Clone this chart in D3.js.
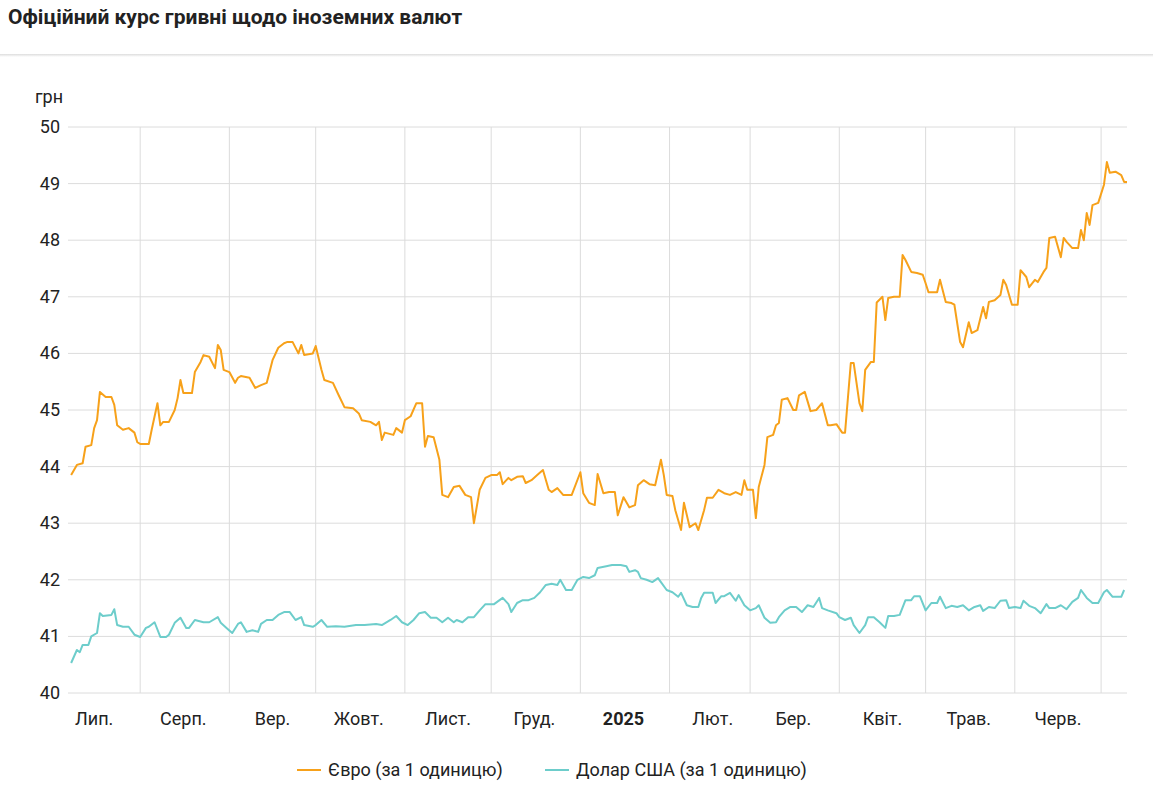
<!DOCTYPE html>
<html>
<head>
<meta charset="utf-8">
<script src="https://cdn.jsdelivr.net/npm/d3@7"></script>
<style>
  body { margin: 0; background: #fff; font-family: Roboto, "Noto Sans", sans-serif; }
  .title { position: absolute; left: 8px; top: 5px; font-size: 21px; font-weight: bold; color: #222; }
  .sep { position: absolute; left: 0; right: 0; top: 54px; height: 3px; background: linear-gradient(#ddd, #fff); }
</style>
</head>
<body>
<div class="title">Офіційний курс гривні щодо іноземних валют</div>
<div class="sep"></div>
<svg id="chart" width="1153" height="792" style="position:absolute;left:0;top:0"></svg>
<script>
'use strict'

// day offsets from 1 Jul 2024
var euroDays = [7, 9, 11, 12, 14, 15, 16, 17, 19, 21, 22, 23, 25, 27, 29, 30, 31, 34, 35, 37, 38, 39, 41, 43, 44, 45, 46, 49, 50, 52, 53, 55, 57, 58, 59, 60, 62, 64, 65, 66, 69, 71, 73, 75, 77, 79, 81, 82, 84, 86, 87, 88, 91, 92, 94, 95, 98, 100, 102, 105, 107, 108, 111, 113, 114, 115, 116, 119, 120, 122, 123, 125, 127, 129, 130, 131, 133, 135, 136, 138, 140, 142, 144, 146, 147, 149, 151, 153, 155, 156, 157, 159, 160, 162, 164, 165, 167, 169, 171, 173, 174, 176, 178, 181, 184, 185, 187, 189, 190, 192, 194, 196, 197, 199, 201, 203, 204, 206, 208, 210, 212, 213, 214, 216, 217, 219, 220, 222, 224, 225, 227, 228, 230, 232, 234, 236, 238, 240, 241, 242, 244, 245, 246, 248, 249, 251, 252, 253, 254, 256, 258, 259, 260, 262, 264, 266, 268, 270, 271, 273, 275, 276, 278, 279, 281, 282, 283, 285, 286, 287, 289, 290, 291, 293, 295, 296, 297, 299, 301, 303, 304, 305, 308, 309, 311, 313, 314, 316, 317, 319, 320, 322, 324, 325, 326, 328, 330, 331, 332, 334, 336, 337, 339, 340, 342, 343, 345, 346, 347, 349, 351, 352, 353, 355, 357, 358, 359, 360, 361, 362, 364, 366, 367, 368, 370, 372, 373, 374]
var euroValues = [43.85, 44.03, 44.06, 44.35, 44.38, 44.68, 44.82, 45.32, 45.23, 45.23, 45.09, 44.73, 44.65, 44.68, 44.6, 44.43, 44.4, 44.4, 44.65, 45.12, 44.73, 44.79, 44.79, 45.0, 45.21, 45.53, 45.3, 45.3, 45.67, 45.85, 45.97, 45.94, 45.74, 46.15, 46.06, 45.71, 45.67, 45.48, 45.57, 45.6, 45.57, 45.39, 45.44, 45.48, 45.88, 46.1, 46.18, 46.2, 46.2, 46.0, 46.15, 45.97, 46.0, 46.13, 45.71, 45.53, 45.48, 45.26, 45.05, 45.03, 44.94, 44.82, 44.79, 44.73, 44.79, 44.47, 44.6, 44.56, 44.68, 44.6, 44.82, 44.89, 45.12, 45.12, 44.35, 44.54, 44.52, 44.12, 43.5, 43.46, 43.64, 43.66, 43.5, 43.46, 43.0, 43.59, 43.8, 43.85, 43.85, 43.9, 43.69, 43.8, 43.76, 43.82, 43.83, 43.71, 43.76, 43.85, 43.94, 43.59, 43.55, 43.62, 43.5, 43.5, 43.9, 43.53, 43.36, 43.32, 43.87, 43.53, 43.55, 43.55, 43.14, 43.46, 43.28, 43.32, 43.67, 43.76, 43.69, 43.67, 44.12, 43.85, 43.5, 43.48, 43.23, 42.88, 43.36, 42.93, 43.0, 42.88, 43.23, 43.45, 43.45, 43.59, 43.53, 43.5, 43.55, 43.5, 43.76, 43.59, 43.59, 43.09, 43.64, 44.03, 44.52, 44.56, 44.73, 44.77, 45.18, 45.21, 45.0, 45.0, 45.26, 45.32, 44.98, 45.0, 45.12, 44.73, 44.73, 44.75, 44.6, 44.6, 45.83, 45.83, 45.12, 44.98, 45.71, 45.85, 45.85, 46.9, 47.0, 46.59, 46.98, 47.0, 47.0, 47.74, 47.65, 47.44, 47.42, 47.39, 47.24, 47.08, 47.08, 47.3, 46.91, 46.89, 46.86, 46.2, 46.11, 46.55, 46.36, 46.41, 46.82, 46.62, 46.91, 46.94, 47.03, 47.3, 47.21, 46.86, 46.86, 47.47, 47.35, 47.17, 47.3, 47.26, 47.44, 47.51, 48.04, 48.06, 47.7, 48.04, 47.97, 47.86, 47.86, 48.18, 48.0, 48.48, 48.27, 48.62, 48.66, 48.98, 49.38, 49.19, 49.21, 49.15, 49.03, 49.03]

var usdDays = [7, 9, 10, 11, 13, 14, 16, 17, 18, 21, 22, 23, 25, 27, 29, 31, 33, 34, 36, 38, 40, 41, 43, 45, 47, 48, 50, 53, 55, 58, 59, 61, 63, 65, 66, 68, 70, 72, 73, 75, 77, 79, 81, 83, 85, 87, 88, 91, 92, 94, 96, 99, 102, 106, 109, 113, 115, 118, 120, 122, 124, 126, 128, 130, 132, 134, 136, 138, 140, 141, 143, 145, 147, 149, 151, 154, 157, 159, 160, 162, 164, 166, 168, 170, 172, 174, 176, 177, 179, 181, 183, 185, 187, 189, 190, 193, 195, 198, 200, 201, 203, 204, 205, 207, 209, 211, 212, 214, 216, 218, 219, 221, 223, 225, 226, 227, 230, 231, 233, 234, 236, 238, 239, 241, 243, 245, 246, 248, 250, 252, 253, 255, 257, 259, 261, 263, 265, 267, 268, 270, 273, 274, 276, 278, 279, 281, 283, 284, 286, 288, 290, 291, 293, 295, 297, 299, 300, 302, 304, 306, 308, 309, 311, 313, 315, 317, 319, 321, 323, 324, 326, 328, 330, 332, 333, 335, 337, 338, 340, 342, 344, 346, 347, 349, 351, 353, 355, 357, 358, 360, 362, 364, 366, 367, 369, 372, 373]
var usdValues = [40.53, 40.76, 40.72, 40.85, 40.85, 41.0, 41.06, 41.41, 41.36, 41.38, 41.48, 41.2, 41.17, 41.17, 41.03, 40.99, 41.15, 41.17, 41.25, 40.99, 40.99, 41.03, 41.24, 41.33, 41.15, 41.15, 41.29, 41.25, 41.25, 41.34, 41.24, 41.15, 41.06, 41.22, 41.25, 41.08, 41.11, 41.08, 41.22, 41.29, 41.29, 41.38, 41.43, 41.43, 41.29, 41.34, 41.2, 41.17, 41.2, 41.29, 41.17, 41.18, 41.17, 41.2, 41.2, 41.22, 41.2, 41.29, 41.36, 41.25, 41.2, 41.29, 41.41, 41.43, 41.33, 41.33, 41.25, 41.33, 41.25, 41.29, 41.25, 41.34, 41.34, 41.46, 41.57, 41.57, 41.68, 41.57, 41.43, 41.59, 41.64, 41.64, 41.68, 41.78, 41.91, 41.93, 41.91, 42.0, 41.82, 41.82, 42.0, 42.05, 42.03, 42.08, 42.21, 42.24, 42.26, 42.26, 42.24, 42.14, 42.17, 42.14, 42.03, 42.0, 41.96, 42.03, 41.96, 41.82, 41.78, 41.7, 41.77, 41.55, 41.52, 41.52, 41.68, 41.77, 41.77, 41.59, 41.71, 41.71, 41.77, 41.63, 41.73, 41.55, 41.46, 41.5, 41.55, 41.33, 41.24, 41.25, 41.34, 41.46, 41.52, 41.52, 41.43, 41.55, 41.52, 41.68, 41.5, 41.46, 41.41, 41.34, 41.29, 41.33, 41.2, 41.06, 41.2, 41.34, 41.34, 41.25, 41.15, 41.36, 41.36, 41.38, 41.64, 41.64, 41.71, 41.71, 41.46, 41.59, 41.59, 41.7, 41.5, 41.54, 41.52, 41.55, 41.46, 41.52, 41.55, 41.45, 41.52, 41.5, 41.63, 41.64, 41.5, 41.52, 41.5, 41.63, 41.54, 41.5, 41.41, 41.57, 41.5, 41.5, 41.55, 41.48, 41.61, 41.68, 41.82, 41.68, 41.59, 41.59, 41.78, 41.82, 41.7, 41.7, 41.82]

var yTicks = [40, 41, 42, 43, 44, 45, 46, 47, 48, 49, 50]
var monthLabels = ['Лип.', 'Серп.', 'Вер.', 'Жовт.', 'Лист.', 'Груд.', '2025', 'Лют.', 'Бер.', 'Квіт.', 'Трав.', 'Черв.']
var seriesNames = ['Євро (за 1 одиницю)', 'Долар США (за 1 одиницю)']
var seriesColors = ['#f7a11a', '#6dcdcb']

var start = new Date(2024, 6, 1)
var end = new Date(2025, 6, 10)
var left = 68, right = 1127

var svg = d3.select('#chart')
var x = d3.scaleTime().domain([start, end]).range([51, 1127])
var y = d3.scaleLinear().domain([40, 50]).range([693, 127])

function toDate (d) { return d3.timeDay.offset(start, d) }

// horizontal grid + y labels
svg.append('g').selectAll('line').data(yTicks).join('line')
  .attr('x1', left).attr('x2', right)
  .attr('y1', function (d) { return y(d) }).attr('y2', function (d) { return y(d) })
  .attr('stroke', '#dcdcdc')
svg.append('g').selectAll('text').data(yTicks).join('text')
  .attr('x', 60).attr('y', function (d) { return y(d) + 6 })
  .attr('text-anchor', 'end').attr('font-size', 18).attr('fill', '#222')
  .text(function (d) { return d })
svg.append('text').attr('x', 35).attr('y', 103).attr('font-size', 18).attr('fill', '#222').text('грн')

// vertical month grid
var months = d3.timeMonth.range(start, end).filter(function (d) { return x(d) >= left })
svg.append('g').selectAll('line').data(months).join('line')
  .attr('x1', function (d) { return x(d) }).attr('x2', function (d) { return x(d) })
  .attr('y1', 127).attr('y2', 693)
  .attr('stroke', '#dcdcdc')

var labelDates = d3.timeMonth.range(start, new Date(2025, 6, 1)).map(function (d) { return d3.timeDay.offset(d, 15) })
svg.append('g').selectAll('text').data(labelDates).join('text')
  .attr('x', function (d) { return x(d) }).attr('y', 725)
  .attr('text-anchor', 'middle').attr('font-size', 18).attr('fill', '#222')
  .attr('font-weight', function (d, i) { return monthLabels[i] === '2025' ? 'bold' : null })
  .text(function (d, i) { return monthLabels[i] })

var line = d3.line()
  .x(function (d) { return x(toDate(d[0])) })
  .y(function (d) { return y(d[1]) })

var series = [d3.zip(euroDays, euroValues), d3.zip(usdDays, usdValues)]
svg.append('g').selectAll('path').data(series).join('path')
  .attr('d', line)
  .attr('fill', 'none')
  .attr('stroke', function (d, i) { return seriesColors[i] })
  .attr('stroke-width', 2)
  .attr('stroke-linejoin', 'round')

// legend
var legendX = [297, 545]
var lg = svg.append('g').selectAll('g').data(seriesNames).join('g')
  .attr('transform', function (d, i) { return 'translate(' + legendX[i] + ',770)' })
lg.append('line').attr('x1', 0).attr('x2', 24)
  .attr('stroke', function (d, i) { return seriesColors[i] }).attr('stroke-width', 2)
lg.append('text').attr('x', 31).attr('y', 6).attr('font-size', 18).attr('fill', '#222')
  .text(function (d) { return d })
</script>
</body>
</html>
